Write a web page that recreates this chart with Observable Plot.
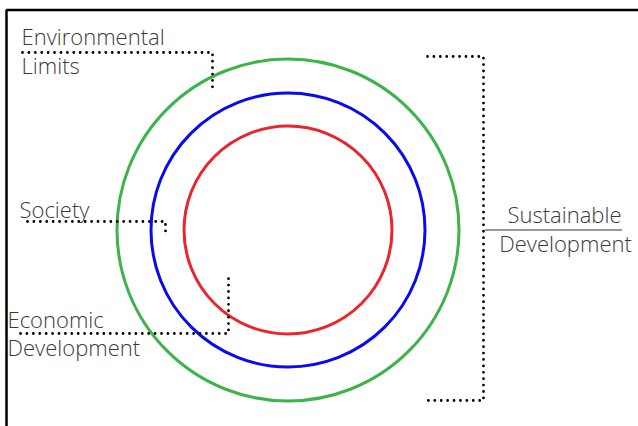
<!DOCTYPE html>
<html>
<head>
<meta charset="utf-8">
<script src="https://cdn.jsdelivr.net/npm/d3@7"></script>
<script src="https://cdn.jsdelivr.net/npm/@observablehq/plot@0.6"></script>
<style>
  html, body { margin: 0; padding: 0; background: #fff; }
  #chart svg { display: block; }
</style>
</head>
<body>
<div id="chart"></div>
<script>
// Concentric rings (centre and radius in diagram units = pixels)
const ringNames = ["Environmental Limits", "Society", "Economic Development"];
const ringRadius = [171, 137, 104];
const ringColor = ["#3cb44b", "#0a0af0", "#e8262b"];
const centre = [287.5, 229.5];

// Left labels (start-anchored lines)
const leftText = ["Environmental", "Limits", "Society", "Economic", "Development"];
const leftX = [21, 21, 19, 7, 7];
const leftY = [37, 66, 210, 320, 348];

// Right label (centred lines)
const rightText = ["Sustainable", "Development"];
const rightX = [564, 565];
const rightY = [215, 244];

// Dotted connector paths (one entry per connector)
const connectorX = [
  [22, 212, 212],
  [27, 165, 165],
  [20, 228, 228],
  [427, 483, 483, 427]
];
const connectorY = [
  [52, 52, 90],
  [221, 221, 234],
  [333, 333, 277],
  [56, 56, 400, 400]
];

// Fraction bar under "Sustainable"
const barX = [485, 621];
const barY = [229.5, 229.5];

// Frame edges (top and left)
const frameX = [6, 6, 638];
const frameY = [426, 9.5, 9.5];

const rings = ringNames.map((n, i) => ({name: n, x: centre[0], y: centre[1], r: ringRadius[i], color: ringColor[i]}));
const leftLabels = leftText.map((t, i) => ({text: t, x: leftX[i], y: leftY[i]}));
const rightLabels = rightText.map((t, i) => ({text: t, x: rightX[i], y: rightY[i]}));
const connectors = connectorX.flatMap((xs, k) => xs.map((x, j) => ({id: k, x, y: connectorY[k][j]})));
const bar = barX.map((x, i) => ({x, y: barY[i]}));
const frame = frameX.map((x, i) => ({x, y: frameY[i]}));

const font = "'Open Sans', 'Segoe UI', Lato, sans-serif";
const textStyle = {lineAnchor: "middle", fontSize: 22, fontWeight: 300, fill: "#3a3a3a"};

const chart = Plot.plot({
  width: 638,
  height: 426,
  margin: 0,
  x: {domain: [0, 638], range: [0, 638], axis: null},
  y: {domain: [0, 426], range: [0, 426], axis: null},
  r: {type: "identity"},
  style: {fontFamily: font, background: "#fff"},
  marks: [
    Plot.line(frame, {x: "x", y: "y", stroke: "#000", strokeWidth: 2.5, strokeLinejoin: "miter"}),
    Plot.dot(rings, {x: "x", y: "y", r: "r", stroke: "color", strokeWidth: 3, fill: "none"}),
    Plot.line(connectors, {x: "x", y: "y", z: "id", stroke: "#000", strokeWidth: 2.8, strokeDasharray: "0.01,6.4", strokeLinecap: "round", strokeLinejoin: "round", curve: "linear"}),
    Plot.line(bar, {x: "x", y: "y", stroke: "#777", strokeWidth: 1.5}),
    Plot.text(leftLabels, {x: "x", y: "y", text: "text", textAnchor: "start", ...textStyle}),
    Plot.text(rightLabels, {x: "x", y: "y", text: "text", textAnchor: "middle", ...textStyle})
  ]
});
document.getElementById("chart").appendChild(chart);
</script>
</body>
</html>
